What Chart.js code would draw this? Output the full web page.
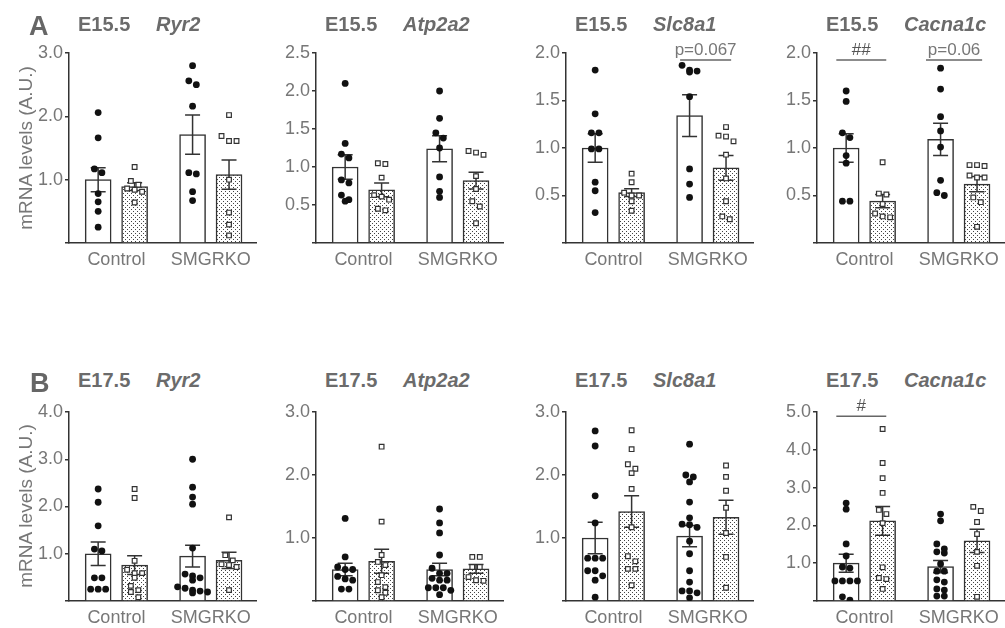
<!DOCTYPE html>
<html>
<head>
<meta charset="utf-8">
<script src="https://cdn.jsdelivr.net/npm/chart.js@4"></script>
<style>
body { margin: 0; width: 1005px; height: 628px; overflow: hidden; background: #fff; position: relative;
       font-family: 'Liberation Sans', Arial, sans-serif; }
.panel { position: absolute; }
.title { position: absolute; font-size: 20px; font-weight: bold; color: #6b6b6b; line-height: 20px; white-space: nowrap; }
.gene { position: absolute; font-style: italic; }
.letter { position: absolute; font-size: 27px; font-weight: bold; color: #666; line-height: 27px; }
.ylab { position: absolute; font-size: 19px; color: #777; white-space: nowrap; line-height: 19px;
        transform: translate(-50%, -50%) rotate(-90deg); }
</style>
</head>
<body>
<script>
const groups = ['Control', 'SMGRKO'];
const stages = ['E15.5', 'E17.5'];
const genes = ['Ryr2', 'Atp2a2', 'Slc8a1', 'Cacna1c'];
const yMax = [[3.0, 2.5, 2.0, 2.0], [4.0, 3.0, 3.0, 5.0]];
const yStep = [[1, 0.5, 0.5, 0.5], [1, 1, 1, 1]];

// bars in order: Control, Control (dotted), SMGRKO, SMGRKO (dotted)
const ryr2E15Mean = [1.00, 0.89, 1.71, 1.08];
const ryr2E15Sem = [0.19, 0.06, 0.31, 0.23];
const ryr2E15Points = [
    [2.06, 1.66, 1.17, 1.11, 0.78, 0.65, 0.50, 0.25],
    [1.20, 0.98, 0.92, 0.86, 0.84, 0.81, 0.64],
    [2.80, 2.56, 2.50, 2.16, 1.11, 1.09, 0.81, 0.67],
    [2.02, 1.69, 1.61, 1.61, 1.00, 0.48, 0.29, 0.12]
];

const atp2a2E15Mean = [1.00, 0.70, 1.24, 0.82];
const atp2a2E15Sem = [0.16, 0.09, 0.17, 0.11];
const atp2a2E15Points = [
    [2.10, 1.31, 1.17, 1.12, 0.83, 0.79, 0.63, 0.57, 0.55],
    [1.05, 1.04, 0.86, 0.63, 0.61, 0.57, 0.45, 0.43],
    [2.00, 1.64, 1.45, 1.38, 1.25, 0.87, 0.68, 0.60],
    [1.21, 1.19, 1.16, 0.88, 0.71, 0.55, 0.48, 0.26]
];

const slc8a1E15Mean = [1.00, 0.53, 1.34, 0.79];
const slc8a1E15Sem = [0.15, 0.04, 0.22, 0.13];
const slc8a1E15Points = [
    [1.82, 1.36, 1.16, 1.16, 0.99, 0.99, 0.64, 0.55, 0.32],
    [0.73, 0.64, 0.53, 0.50, 0.50, 0.44, 0.34],
    [1.87, 1.82, 1.81, 1.80, 1.54, 0.78, 0.62, 0.48],
    [1.22, 1.13, 1.12, 1.07, 0.93, 0.68, 0.44, 0.28, 0.25]
];

const cacna1cE15Mean = [1.00, 0.44, 1.09, 0.62];
const cacna1cE15Sem = [0.15, 0.07, 0.17, 0.08];
const cacna1cE15Points = [
    [1.60, 1.49, 1.16, 1.11, 0.92, 0.84, 0.44, 0.44],
    [0.85, 0.52, 0.51, 0.41, 0.31, 0.28, 0.27],
    [1.84, 1.62, 1.33, 1.18, 1.01, 0.66, 0.53, 0.50],
    [0.82, 0.82, 0.81, 0.71, 0.69, 0.69, 0.48, 0.43, 0.17]
];

const ryr2E17Mean = [1.00, 0.76, 0.95, 0.86];
const ryr2E17Sem = [0.25, 0.20, 0.23, 0.17];
const ryr2E17Points = [
    [2.37, 2.09, 1.59, 1.10, 1.06, 0.49, 0.49, 0.25, 0.25, 0.25],
    [2.37, 2.18, 0.85, 0.66, 0.59, 0.59, 0.49, 0.32, 0.23, 0.19, 0.08],
    [3.00, 2.41, 2.20, 2.05, 1.12, 0.57, 0.53, 0.49, 0.44, 0.30, 0.27, 0.23, 0.21, 0.19, 0.17],
    [1.77, 0.97, 0.86, 0.78, 0.76, 0.72, 0.23]
];

const atp2a2E17Mean = [0.50, 0.63, 0.50, 0.51];
const atp2a2E17Sem = [0.10, 0.19, 0.10, 0.07];
const atp2a2E17Points = [
    [1.31, 0.70, 0.54, 0.50, 0.50, 0.39, 0.35, 0.33, 0.19, 0.19],
    [2.45, 1.26, 0.73, 0.62, 0.57, 0.41, 0.30, 0.22, 0.17, 0.13, 0.06],
    [1.46, 1.24, 1.08, 0.73, 0.52, 0.44, 0.44, 0.36, 0.33, 0.33, 0.21, 0.21, 0.21, 0.17, 0.10],
    [0.70, 0.70, 0.54, 0.54, 0.38, 0.33, 0.32]
];

const slc8a1E17Mean = [1.00, 1.42, 1.03, 1.33];
const slc8a1E17Sem = [0.25, 0.25, 0.17, 0.27];
const slc8a1E17Points = [
    [2.70, 2.46, 1.67, 1.24, 0.68, 0.68, 0.68, 0.48, 0.48, 0.40, 0.33, 0.06],
    [2.71, 2.41, 2.17, 2.10, 2.03, 1.78, 1.17, 0.71, 0.63, 0.51, 0.51, 0.25],
    [2.49, 2.00, 1.97, 1.89, 1.57, 1.32, 1.22, 1.21, 1.17, 0.95, 0.75, 0.48, 0.30, 0.16, 0.16, 0.13, 0.05],
    [2.15, 1.97, 1.75, 1.48, 1.08, 0.70, 0.21]
];

const cacna1cE17Mean = [1.00, 2.12, 0.91, 1.59];
const cacna1cE17Sem = [0.24, 0.38, 0.16, 0.31];
const cacna1cE17Points = [
    [2.59, 2.43, 1.51, 1.19, 0.90, 0.87, 0.53, 0.53, 0.53, 0.53, 0.11, 0.02],
    [4.55, 3.65, 3.25, 2.86, 2.41, 2.30, 2.06, 0.89, 0.61, 0.58, 0.32],
    [2.30, 2.12, 1.51, 1.38, 1.30, 1.27, 0.98, 0.79, 0.79, 0.56, 0.50, 0.32, 0.29, 0.13, 0.13],
    [2.49, 2.38, 2.09, 1.77, 1.30, 0.93, 0.11]
];

// significance marks: label, line from/to (x units), height (y units)
const slc8a1E15Marks = [{ text: 'p=0.067', from: 2.33, to: 3.73, at: 1.926 }];
const cacna1cE15Marks = [
    { text: '##', from: -0.27, to: 1.1, at: 1.926 },
    { text: 'p=0.06', from: 2.19, to: 3.73, at: 1.926 }
];
const cacna1cE17Marks = [{ text: '#', from: -0.27, to: 1.1, at: 4.89 }];

const panels = [
    [[ryr2E15Mean, ryr2E15Sem, ryr2E15Points, []],
     [atp2a2E15Mean, atp2a2E15Sem, atp2a2E15Points, []],
     [slc8a1E15Mean, slc8a1E15Sem, slc8a1E15Points, slc8a1E15Marks],
     [cacna1cE15Mean, cacna1cE15Sem, cacna1cE15Points, cacna1cE15Marks]],
    [[ryr2E17Mean, ryr2E17Sem, ryr2E17Points, []],
     [atp2a2E17Mean, atp2a2E17Sem, atp2a2E17Points, []],
     [slc8a1E17Mean, slc8a1E17Sem, slc8a1E17Points, []],
     [cacna1cE17Mean, cacna1cE17Sem, cacna1cE17Points, cacna1cE17Marks]]
];

// layout
const barPos = [0, 1, 2.59, 3.59];
const groupPos = [0.5, 3.09];
const X_MIN = -0.8, X_MAX = 4.33;
const colAxis = [69, 316, 566, 817];
const rowTop = [53, 412];
const plotH = [190, 189];
const plotW = 187;
const AXW = 50, PADT = 20, XAXH = 35;
const INK = '#333';
const GREY = '#777';

Chart.defaults.font.family = "'Liberation Sans', Arial, sans-serif";

function dotPattern() {
    const c = document.createElement('canvas');
    c.width = 4; c.height = 4;
    const g = c.getContext('2d');
    g.fillStyle = '#fff';
    g.fillRect(0, 0, 4, 4);
    g.fillStyle = '#444';
    g.fillRect(0, 0, 1, 1);
    g.fillRect(2, 2, 1, 1);
    return g.createPattern(c, 'repeat');
}

// spread points sitting at about the same height side by side
function swarm(vals, center, pxPerY) {
    const pxPerX = plotW / (X_MAX - X_MIN);
    const gap = 7.5 / pxPerX;
    const out = [];
    let row = [];
    const flush = () => {
        row.forEach((v, i) => out.push({ x: center + (i - (row.length - 1) / 2) * gap, y: v }));
        row = [];
    };
    vals.slice().sort((a, b) => b - a).forEach(v => {
        if (row.length && (row[0] - v) * pxPerY > 6) flush();
        row.push(v);
    });
    flush();
    return out;
}

const errorBars = {
    id: 'errorBars',
    afterDatasetDraw(chart, args) {
        if (args.index !== 0) return;
        const { ctx, scales: { x, y } } = chart;
        const ds = chart.data.datasets[0];
        ctx.save();
        ctx.strokeStyle = INK;
        ctx.lineWidth = 1.5;
        ds.data.forEach((d, i) => {
            const px = x.getPixelForValue(d.x);
            const hi = y.getPixelForValue(d.y + ds.sem[i]);
            const lo = y.getPixelForValue(d.y - ds.sem[i]);
            ctx.beginPath();
            ctx.moveTo(px, hi); ctx.lineTo(px, lo);
            ctx.moveTo(px - 7.5, hi); ctx.lineTo(px + 7.5, hi);
            ctx.moveTo(px - 7.5, lo); ctx.lineTo(px + 7.5, lo);
            ctx.stroke();
        });
        ctx.restore();
    }
};

function sigPlugin(marks) {
    return {
        id: 'sigMarks',
        afterDraw(chart) {
            const { ctx, scales: { x, y } } = chart;
            ctx.save();
            marks.forEach(m => {
                const x1 = x.getPixelForValue(m.from), x2 = x.getPixelForValue(m.to);
                const py = y.getPixelForValue(m.at);
                ctx.strokeStyle = '#666';
                ctx.lineWidth = 1.5;
                ctx.beginPath();
                ctx.moveTo(x1, py); ctx.lineTo(x2, py);
                ctx.stroke();
                ctx.fillStyle = m.text.startsWith('#') ? '#555' : GREY;
                ctx.font = "17px 'Liberation Sans', Arial, sans-serif";
                ctx.textAlign = 'center';
                ctx.textBaseline = 'alphabetic';
                ctx.fillText(m.text, (x1 + x2) / 2, py - 5);
            });
            ctx.restore();
        }
    };
}

function addText(cls, left, top, html) {
    const d = document.createElement('div');
    d.className = cls;
    d.style.left = left + 'px';
    d.style.top = top + 'px';
    d.innerHTML = html;
    document.body.appendChild(d);
}

function makePanel(r, c) {
    const [mean, sem, points, marks] = panels[r][c];
    const pxPerY = plotH[r] / yMax[r][c];
    const dots = dotPattern();

    const wrap = document.createElement('div');
    wrap.className = 'panel';
    const w = AXW + plotW + 3, h = PADT + plotH[r] + XAXH;
    wrap.style.left = (colAxis[c] - AXW) + 'px';
    wrap.style.top = (rowTop[r] - PADT) + 'px';
    const canvas = document.createElement('canvas');
    canvas.width = w; canvas.height = h;
    wrap.appendChild(canvas);
    document.body.appendChild(wrap);

    const circles = [].concat(swarm(points[0], barPos[0], pxPerY), swarm(points[2], barPos[2], pxPerY));
    const squares = [].concat(swarm(points[1], barPos[1], pxPerY), swarm(points[3], barPos[3], pxPerY));

    new Chart(canvas, {
        type: 'bar',
        data: {
            datasets: [
                {
                    type: 'bar',
                    data: barPos.map((x, i) => ({ x, y: mean[i] })),
                    sem: sem,
                    backgroundColor: ['#fff', dots, '#fff', dots],
                    borderColor: INK,
                    borderWidth: 1.5,
                    barThickness: 26,
                    grouped: false,
                    order: 2
                },
                {
                    type: 'scatter',
                    data: circles,
                    pointStyle: 'circle',
                    pointRadius: 3.4,
                    backgroundColor: '#111',
                    borderWidth: 0,
                    order: 1
                },
                {
                    type: 'scatter',
                    data: squares,
                    pointStyle: 'rect',
                    pointRadius: 3.3,
                    backgroundColor: '#fff',
                    borderColor: INK,
                    borderWidth: 1.2,
                    order: 1
                }
            ]
        },
        options: {
            responsive: false,
            animation: false,
            events: [],
            layout: { padding: { top: PADT, right: 3, left: 0, bottom: 0 }, autoPadding: false },
            plugins: { legend: { display: false }, tooltip: { enabled: false } },
            scales: {
                x: {
                    type: 'linear',
                    min: X_MIN,
                    max: X_MAX,
                    offset: false,
                    grid: { display: false, drawTicks: false, offset: false },
                    border: { color: INK, width: 1.5 },
                    afterBuildTicks: s => { s.ticks = groupPos.map(v => ({ value: v })); },
                    afterFit: s => { s.height = XAXH; },
                    ticks: {
                        callback: (v, i) => groups[i],
                        color: GREY,
                        font: { size: 18 },
                        padding: 6,
                        maxRotation: 0,
                        autoSkip: false
                    }
                },
                y: {
                    min: 0,
                    max: yMax[r][c],
                    grid: { drawOnChartArea: false, tickLength: 4, color: INK, lineWidth: 1.5 },
                    border: { color: INK, width: 1.5 },
                    afterFit: s => { s.width = AXW; },
                    ticks: {
                        stepSize: yStep[r][c],
                        callback: v => v === 0 ? '' : v.toFixed(1),
                        color: GREY,
                        font: { size: 18 },
                        padding: 2
                    }
                }
            }
        },
        plugins: [errorBars, sigPlugin(marks)]
    });

    addText('title', colAxis[c] + 9, r === 0 ? 14 : 370,
        stages[r] + '<span class="gene" style="left:78px">' + genes[c] + '</span>');
}

for (let r = 0; r < 2; r++) {
    for (let c = 0; c < 4; c++) makePanel(r, c);
}

addText('letter', 29, 13, 'A');
addText('letter', 30, 370, 'B');
addText('ylab', 25, 148, 'mRNA levels (A.U.)');
addText('ylab', 25, 506, 'mRNA levels (A.U.)');
</script>
</body>
</html>
